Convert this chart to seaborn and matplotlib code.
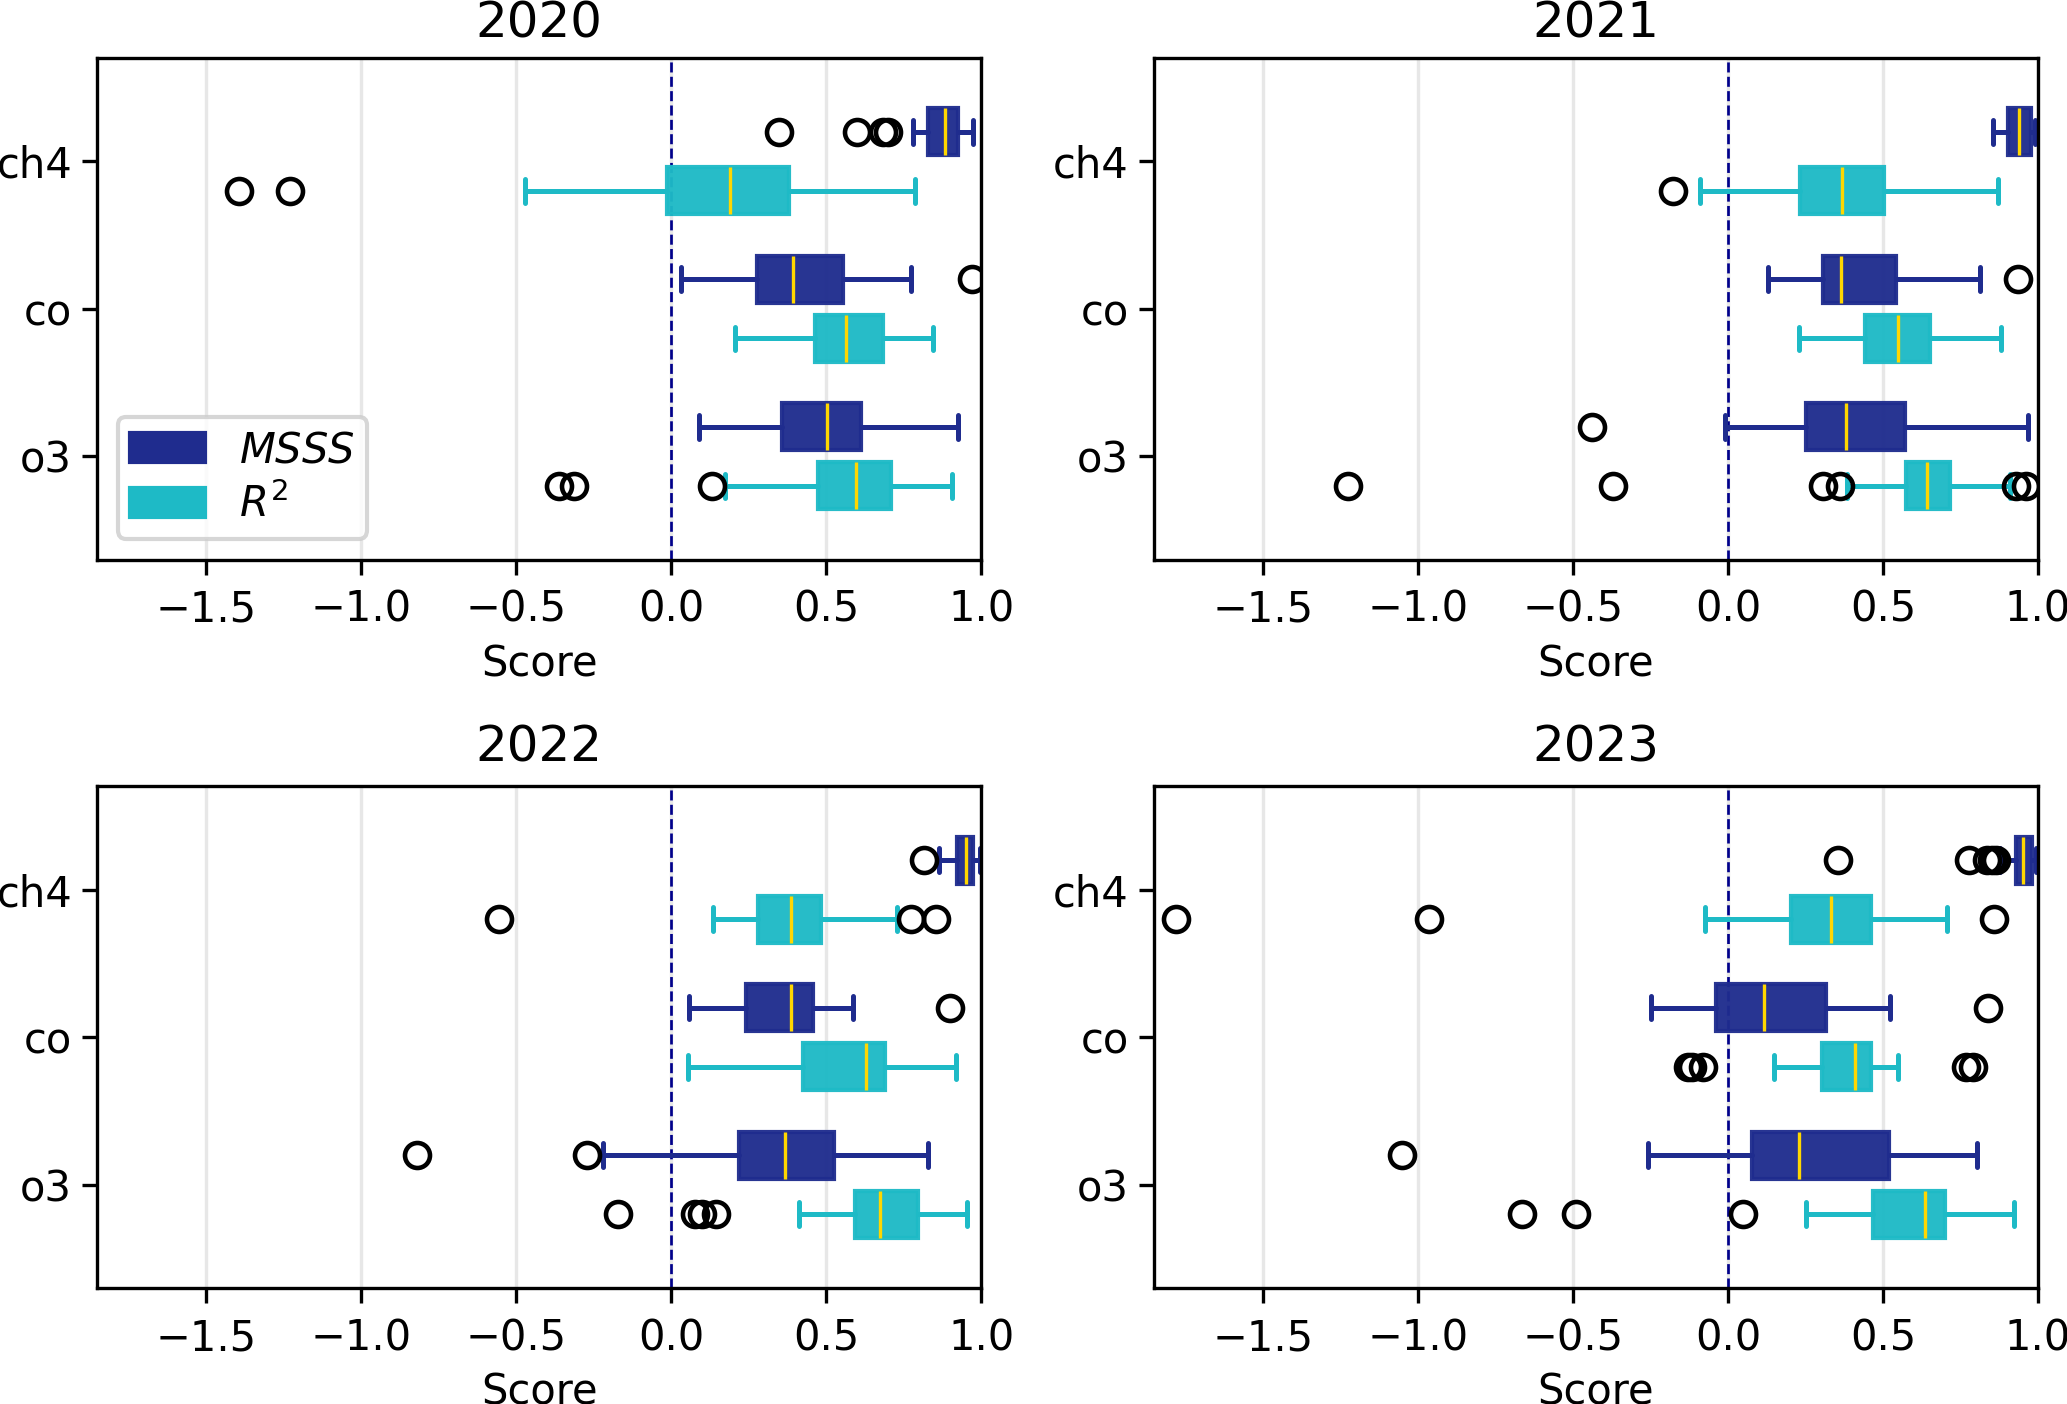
import matplotlib
matplotlib.use("Agg")
import matplotlib.pyplot as plt
from matplotlib.patches import Patch
import seaborn as sns

years = ["2020", "2021", "2022", "2023"]
gases = ["ch4", "co", "o3"]

# box statistics, one row per year, columns = gases
msss_whislo = [[0.779, 0.030, 0.089], [0.855, 0.128, -0.009], [0.862, 0.057, -0.219], [0.877, -0.247, -0.257]]
msss_q1 = [[0.828, 0.277, 0.357], [0.904, 0.306, 0.251], [0.921, 0.240, 0.217], [0.928, -0.040, 0.077]]
msss_med = [[0.883, 0.391, 0.502], [0.937, 0.366, 0.379], [0.949, 0.387, 0.366], [0.951, 0.117, 0.228]]
msss_q3 = [[0.923, 0.553, 0.611], [0.977, 0.543, 0.570], [0.974, 0.457, 0.523], [0.979, 0.315, 0.519]]
msss_whishi = [[0.974, 0.772, 0.923], [0.990, 0.813, 0.966], [0.994, 0.587, 0.828], [0.994, 0.523, 0.804]]
msss_fliers = [
    [[0.347, 0.600, 0.683, 0.700], [0.970], []],
    [[], [0.934], [-0.440]],
    [[0.815], [0.900], [-0.819, -0.272]],
    [[0.355, 0.777, 0.835, 0.850, 0.865], [0.840], [-1.051]],
]

r2_whislo = [[-0.472, 0.206, 0.172], [-0.091, 0.230, 0.385], [0.134, 0.053, 0.411], [-0.074, 0.147, 0.251]]
r2_q1 = [[-0.013, 0.462, 0.474], [0.232, 0.443, 0.574], [0.281, 0.426, 0.591], [0.204, 0.302, 0.468]]
r2_med = [[0.189, 0.562, 0.596], [0.368, 0.549, 0.643], [0.385, 0.628, 0.674], [0.332, 0.411, 0.636]]
r2_q3 = [[0.381, 0.683, 0.709], [0.504, 0.651, 0.715], [0.483, 0.689, 0.794], [0.460, 0.462, 0.700]]
r2_whishi = [[0.787, 0.845, 0.904], [0.872, 0.881, 0.910], [0.728, 0.919, 0.955], [0.706, 0.547, 0.923]]
r2_fliers = [
    [[-1.396, -1.230], [], [-0.362, -0.315, 0.130]],
    [[-0.179], [], [-1.226, -0.372, 0.306, 0.362, 0.930, 0.960]],
    [[-0.555, 0.772, 0.853], [], [-0.172, 0.075, 0.100, 0.145]],
    [[-1.781, -0.964, 0.857], [-0.128, -0.117, -0.081, 0.768, 0.791], [-0.666, -0.491, 0.047]],
]

msss_color = "#1f2c8e"
r2_color = "#1ebac6"

sns.set_style("ticks", {"axes.edgecolor": "black", "xtick.color": "black",
                        "ytick.color": "black", "text.color": "black",
                        "axes.labelcolor": "black"})
plt.rcParams["font.family"] = ["DejaVu Sans"]
plt.rcParams["font.size"] = 10


def make_stats(whislo, q1, med, q3, whishi, fliers, i):
    out = []
    for j in range(len(gases)):
        out.append({"whislo": whislo[i][j], "q1": q1[i][j], "med": med[i][j],
                    "q3": q3[i][j], "whishi": whishi[i][j], "fliers": fliers[i][j]})
    return out


fig, axes = plt.subplots(2, 2, figsize=(6.89, 4.68), dpi=300)
fig.subplots_adjust(left=0.047, right=0.986, top=0.9587, bottom=0.0826,
                    wspace=0.195, hspace=0.452)

for i, (year, ax) in enumerate(zip(years, axes.flat)):
    ax.xaxis.grid(True, color="#b0b0b0", alpha=0.3, lw=0.8)
    ax.set_axisbelow(True)
    ax.axvline(0, color="darkblue", ls="--", lw=0.65, zorder=1.5)
    for stats, color, off in [
        (make_stats(msss_whislo, msss_q1, msss_med, msss_q3, msss_whishi, msss_fliers, i), msss_color, -0.2),
        (make_stats(r2_whislo, r2_q1, r2_med, r2_q3, r2_whishi, r2_fliers, i), r2_color, 0.2),
    ]:
        pos = [k + off for k in range(len(gases))]
        ax.bxp(stats, positions=pos, widths=0.32, orientation="horizontal",
               patch_artist=True, manage_ticks=False,
               boxprops=dict(facecolor=color, edgecolor=color, alpha=0.96),
               whiskerprops=dict(color=color, lw=1.2),
               capprops=dict(color=color, lw=1.2),
               medianprops=dict(color="gold", lw=0.8),
               flierprops=dict(marker="o", markerfacecolor="none",
                               markeredgecolor="black", markersize=6,
                               markeredgewidth=1.1))
    ax.set_yticks(range(len(gases)))
    ax.set_yticklabels(gases)
    ax.tick_params(axis="y", pad=2.5)
    ax.set_ylim(len(gases) - 1 + 0.7, -0.7)
    ax.set_xlim(-1.852, 1.0)
    ax.set_xticks([-1.5, -1.0, -0.5, 0.0, 0.5, 1.0])
    ax.set_xlabel("Score", labelpad=3)
    ax.set_title(year, fontsize=12, pad=5 if i < 2 else 6)

handles = [Patch(facecolor=msss_color, edgecolor=msss_color, label="$MSSS$"),
           Patch(facecolor=r2_color, edgecolor=r2_color, label="$R^2$")]
axes[0, 0].legend(handles=handles, loc="lower left", handlelength=1.8,
                  labelspacing=0.3, borderpad=0.3)

fig.savefig("out.png", dpi=300)
